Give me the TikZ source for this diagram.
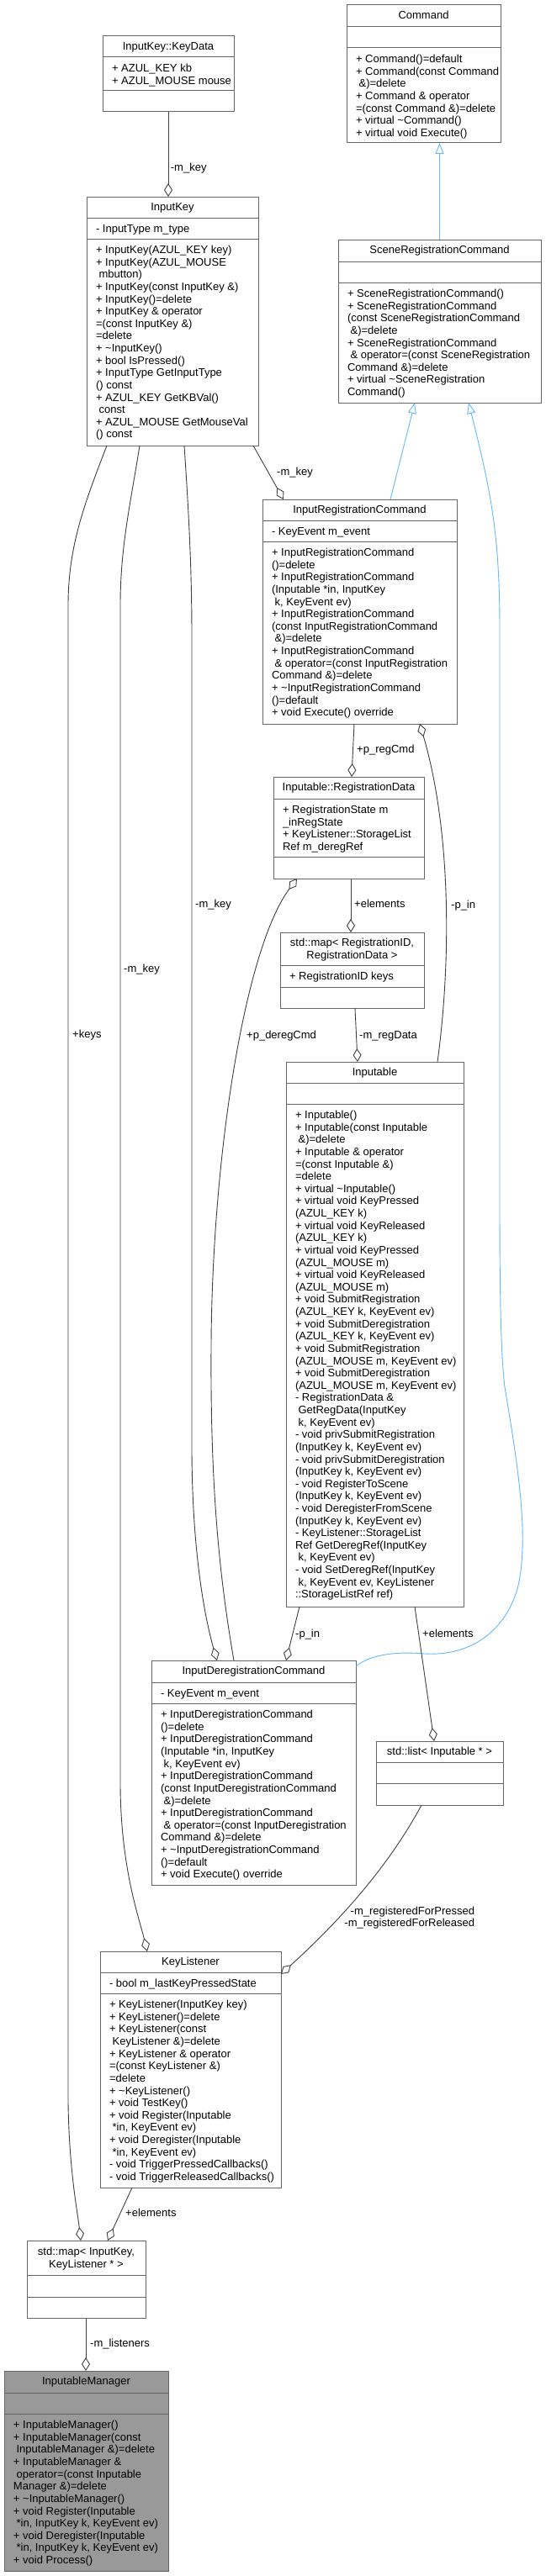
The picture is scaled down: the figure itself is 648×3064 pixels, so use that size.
\documentclass[tikz,border=0pt]{standalone}
\usepackage{fontspec}
\setmainfont{Liberation Sans}
\usetikzlibrary{arrows.meta}
\definecolor{bordc}{HTML}{666666}
\definecolor{edgec}{HTML}{404040}
\definecolor{inhc}{HTML}{63B8FF}
\definecolor{focusc}{HTML}{999999}
\tikzset{
  clsnode/.style={draw=bordc, line width=1pt, fill=white, rectangle, inner sep=0pt, outer sep=0pt},
  sepline/.style={draw=bordc, line width=1pt},
  ttlnode/.style={anchor=base, inner sep=0pt},
  txtnode/.style={anchor=north west, inner sep=0pt},
  lbl/.style={anchor=base west, inner sep=0pt},
  agg/.style={draw=edgec, line width=0.9pt, -{Diamond[open, length=16pt, width=10pt]}},
  inh/.style={draw=inhc, line width=0.9pt, -{Triangle[open, length=13pt, width=10pt]}},
}
\newcommand\clsbox[8]{%
  \node[clsnode,#8,minimum width=#4,minimum height=#5+#6+#7,anchor=north west] (#1) at (#2,#3) {};
  \draw[sepline] (#2,#3+#5) -- ++(#4,0);
  \draw[sepline] (#2,#3+#5+#6) -- ++(#4,0);
}
\newcommand\clstitle[2]{\node[ttlnode] (#1t) at ([yshift=-16.5]#1.north) {#2};}
\newcommand\clstitletwo[3]{\node[anchor=north, inner sep=0pt] (#1t) at ([yshift=-#2]#1.north) {\begin{tabular}{@{}c@{}}#3\end{tabular}};}
\newcommand\clslines[4]{\node[txtnode] (#1#2) at ([xshift=10.8, yshift=-#3]#1.north west) {\begin{tabular}{@{}l@{}}#4\end{tabular}};}
\begin{document}
\begin{tikzpicture}[x=1pt,y=-1pt,font=\fontsize{13}{14.62}\selectfont]
\fill[white] (0,0) rectangle (648,3064);
\useasboundingbox (0,0) rectangle (648,3064);

% ---------- boxes ----------
\clsbox{kd}{122}{43}{156}{25}{40}{25}{}
\clstitle{kd}{InputKey::KeyData}
\clslines{kd}{a}{32.2}{+ AZUL\_KEY kb\\
+ AZUL\_MOUSE mouse}

\clsbox{cmd}{412}{6}{183}{26}{25}{113}{}
\clstitle{cmd}{Command}
\clslines{cmd}{m}{58.2}{+ Command()=default\\
+ Command(const Command\\
\ \&)=delete\\
+ Command \& operator\\
=(const Command \&)=delete\\
+ virtual \textasciitilde Command()\\
+ virtual void Execute()}

\clsbox{ik}{103}{234}{204}{25}{25}{246}{}
\clstitle{ik}{InputKey}
\clslines{ik}{a}{32.2}{- InputType m\_type}
\clslines{ik}{m}{57.2}{+ InputKey(AZUL\_KEY key)\\
+ InputKey(AZUL\_MOUSE\\
\ mbutton)\\
+ InputKey(const InputKey \&)\\
+ InputKey()=delete\\
+ InputKey \& operator\\
=(const InputKey \&)\\
=delete\\
+ \textasciitilde InputKey()\\
+ bool IsPressed()\\
+ InputType GetInputType\\
() const\\
+ AZUL\_KEY GetKBVal()\\
\ const\\
+ AZUL\_MOUSE GetMouseVal\\
() const}

\clsbox{src}{402}{285}{241}{26}{25}{143}{}
\clstitle{src}{SceneRegistrationCommand}
\clslines{src}{m}{58.2}{+ SceneRegistrationCommand()\\
+ SceneRegistrationCommand\\
(const SceneRegistrationCommand\\
\ \&)=delete\\
+ SceneRegistrationCommand\\
\ \& operator=(const SceneRegistration\\
Command \&)=delete\\
+ virtual \textasciitilde SceneRegistration\\
Command()}

\clsbox{irc}{312}{594}{231}{25}{25}{217}{}
\clstitle{irc}{InputRegistrationCommand}
\clslines{irc}{a}{32.2}{- KeyEvent m\_event}
\clslines{irc}{m}{57.2}{+ InputRegistrationCommand\\
()=delete\\
+ InputRegistrationCommand\\
(Inputable *in, InputKey\\
\ k, KeyEvent ev)\\
+ InputRegistrationCommand\\
(const InputRegistrationCommand\\
\ \&)=delete\\
+ InputRegistrationCommand\\
\ \& operator=(const InputRegistration\\
Command \&)=delete\\
+ \textasciitilde InputRegistrationCommand\\
()=default\\
+ void Execute() override}

\clsbox{rd}{325}{924}{179}{26}{69}{26}{}
\clstitle{rd}{Inputable::RegistrationData}
\clslines{rd}{a}{33.2}{+ RegistrationState m\\
\_inRegState\\
+ KeyListener::StorageList\\
Ref m\_deregRef}

\clsbox{mrid}{333}{1109}{171}{39}{26}{25}{}
\clstitletwo{mrid}{6.5}{std::map< RegistrationID,\\ RegistrationData >}
\clslines{mrid}{a}{46.2}{+ RegistrationID keys}

\clsbox{inp}{340}{1263}{211}{25}{25}{598}{}
\clstitle{inp}{Inputable}
\clslines{inp}{m}{57.2}{+ Inputable()\\
+ Inputable(const Inputable\\
\ \&)=delete\\
+ Inputable \& operator\\
=(const Inputable \&)\\
=delete\\
+ virtual \textasciitilde Inputable()\\
+ virtual void KeyPressed\\
(AZUL\_KEY k)\\
+ virtual void KeyReleased\\
(AZUL\_KEY k)\\
+ virtual void KeyPressed\\
(AZUL\_MOUSE m)\\
+ virtual void KeyReleased\\
(AZUL\_MOUSE m)\\
+ void SubmitRegistration\\
(AZUL\_KEY k, KeyEvent ev)\\
+ void SubmitDeregistration\\
(AZUL\_KEY k, KeyEvent ev)\\
+ void SubmitRegistration\\
(AZUL\_MOUSE m, KeyEvent ev)\\
+ void SubmitDeregistration\\
(AZUL\_MOUSE m, KeyEvent ev)\\
- RegistrationData \&\\
\ GetRegData(InputKey\\
\ k, KeyEvent ev)\\
- void privSubmitRegistration\\
(InputKey k, KeyEvent ev)\\
- void privSubmitDeregistration\\
(InputKey k, KeyEvent ev)\\
- void RegisterToScene\\
(InputKey k, KeyEvent ev)\\
- void DeregisterFromScene\\
(InputKey k, KeyEvent ev)\\
- KeyListener::StorageList\\
Ref GetDeregRef(InputKey\\
\ k, KeyEvent ev)\\
- void SetDeregRef(InputKey\\
\ k, KeyEvent ev, KeyListener\\
::StorageListRef ref)}

\clsbox{idc}{180}{1975}{243}{26}{25}{216}{}
\clstitle{idc}{InputDeregistrationCommand}
\clslines{idc}{a}{33.2}{- KeyEvent m\_event}
\clslines{idc}{m}{58.2}{+ InputDeregistrationCommand\\
()=delete\\
+ InputDeregistrationCommand\\
(Inputable *in, InputKey\\
\ k, KeyEvent ev)\\
+ InputDeregistrationCommand\\
(const InputDeregistrationCommand\\
\ \&)=delete\\
+ InputDeregistrationCommand\\
\ \& operator=(const InputDeregistration\\
Command \&)=delete\\
+ \textasciitilde InputDeregistrationCommand\\
()=default\\
+ void Execute() override}

\clsbox{lst}{447}{2071}{151}{25}{25}{26}{}
\clstitle{lst}{std::list< Inputable * >}

\clsbox{kl}{119}{2321}{215}{25}{25}{231}{}
\clstitle{kl}{KeyListener}
\clslines{kl}{a}{32.2}{- bool m\_lastKeyPressedState}
\clslines{kl}{m}{57.2}{+ KeyListener(InputKey key)\\
+ KeyListener()=delete\\
+ KeyListener(const\\
\ KeyListener \&)=delete\\
+ KeyListener \& operator\\
=(const KeyListener \&)\\
=delete\\
+ \textasciitilde KeyListener()\\
+ void TestKey()\\
+ void Register(Inputable\\
\ *in, KeyEvent ev)\\
+ void Deregister(Inputable\\
\ *in, KeyEvent ev)\\
- void TriggerPressedCallbacks()\\
- void TriggerReleasedCallbacks()}

\clsbox{mik}{32}{2665}{141}{41}{26}{25}{}
\clstitletwo{mik}{7.2}{std::map< InputKey,\\ KeyListener * >}

\clsbox{im}{5}{2820}{195}{26}{25}{187}{fill=focusc}
\clstitle{im}{InputableManager}
\clslines{im}{m}{58.2}{+ InputableManager()\\
+ InputableManager(const\\
\ InputableManager \&)=delete\\
+ InputableManager \&\\
\ operator=(const Inputable\\
Manager \&)=delete\\
+ \textasciitilde InputableManager()\\
+ void Register(Inputable\\
\ *in, InputKey k, KeyEvent ev)\\
+ void Deregister(Inputable\\
\ *in, InputKey k, KeyEvent ev)\\
+ void Process()}

% ---------- inheritance ----------
\draw[inh] (src.north) -- (src.north |- cmd.south);
\draw[inh] ([xshift=152]irc.north west) -- ([xshift=91]src.south west);
\draw[inh] ([yshift=-7]idc.north east) .. controls (440,1968) and (470,1964) .. (505,1967)
  .. controls (560,1970) and (600,1940) .. (615,1890)
  .. controls (630,1830) and (615,1740) .. (600,1650)
  .. controls (594,1600) and (594,1500) .. (594,1400) -- (594,750)
  .. controls (594,640) and (585,590) .. ([xshift=155]src.south west);

% ---------- aggregations ----------
\draw[agg] (kd.south) -- (kd.south |- ik.north);
\node[lbl] (l1) at (202.7,204) {-m\_key};

\draw[agg] ([xshift=198]ik.south west) -- ([xshift=25]irc.north west);
\node[lbl] (l2) at (329,565) {-m\_key};

\draw[agg] ([xshift=116]ik.south west) .. controls (225,620) and (228,680) .. (228,760) -- (228,1720)
  .. controls (228,1850) and (245,1930) .. ([xshift=78]idc.north west);
\node[lbl] (l3) at (232,1079) {-m\_key};

\draw[agg] ([xshift=63]ik.south west) .. controls (155,600) and (143,650) .. (143,720) -- (143,2120)
  .. controls (143,2220) and (165,2280) .. ([xshift=56]kl.north west);
\node[lbl] (l4) at (147,1156) {-m\_key};

\draw[agg] ([xshift=24]ik.south west) .. controls (100,600) and (81,650) .. (81,720) -- (81,2500)
  .. controls (82,2580) and (92,2630) .. ([xshift=64]mik.north west);
\node[lbl] (l5) at (86,1234) {+keys};

\draw[agg] ([xshift=109]irc.south west) -- ([xshift=93]rd.north west);
\node[lbl] (l6) at (424,895) {+p\_regCmd};

\draw[agg] ([xshift=180]inp.north west) .. controls (538,1130) and (534,980) .. ([xshift=187]irc.south west);
\node[lbl] (l7) at (536,1080) {-p\_in};

\draw[agg] ([xshift=92]rd.south west) -- ([xshift=84]mrid.north west);
\node[lbl] (l8) at (421,1079) {+elements};

\draw[agg] ([xshift=89]mrid.south west) -- ([xshift=85]inp.north west);
\node[lbl] (l9) at (427,1235) {-m\_regData};

\draw[agg] ([xshift=98]idc.north west) .. controls (258,1860) and (250,1750) .. (251,1600)
  .. controls (252,1380) and (290,1130) .. ([xshift=28]rd.south west);
\node[lbl] (l10) at (293,1235) {+p\_deregCmd};

\draw[agg] ([xshift=16]inp.south west) -- ([xshift=160]idc.north west);
\node[lbl] (l11) at (351,1947) {-p\_in};

\draw[agg] ([xshift=153]inp.south west) -- ([xshift=69]lst.north west);
\node[lbl] (l12) at (502,1947) {+elements};

\draw[agg] ([xshift=54]lst.south west) .. controls (470,2205) and (420,2270) .. ([yshift=-27]kl.north east);
\node[anchor=north east, inner sep=0pt] (l13) at (564.3,2266.8) {\begin{tabular}{@{}r@{}}-m\_registeredForPressed\\ -m\_registeredForReleased\end{tabular}};

\draw[agg] ([xshift=38]kl.south west) -- ([xshift=96]mik.north west);
\node[lbl] (l14) at (149,2636) {+elements};

\draw[agg] ([xshift=70]mik.south west) -- ([xshift=97]im.north west);
\node[lbl] (l15) at (107,2791) {-m\_listeners};
\end{tikzpicture}
\end{document}
